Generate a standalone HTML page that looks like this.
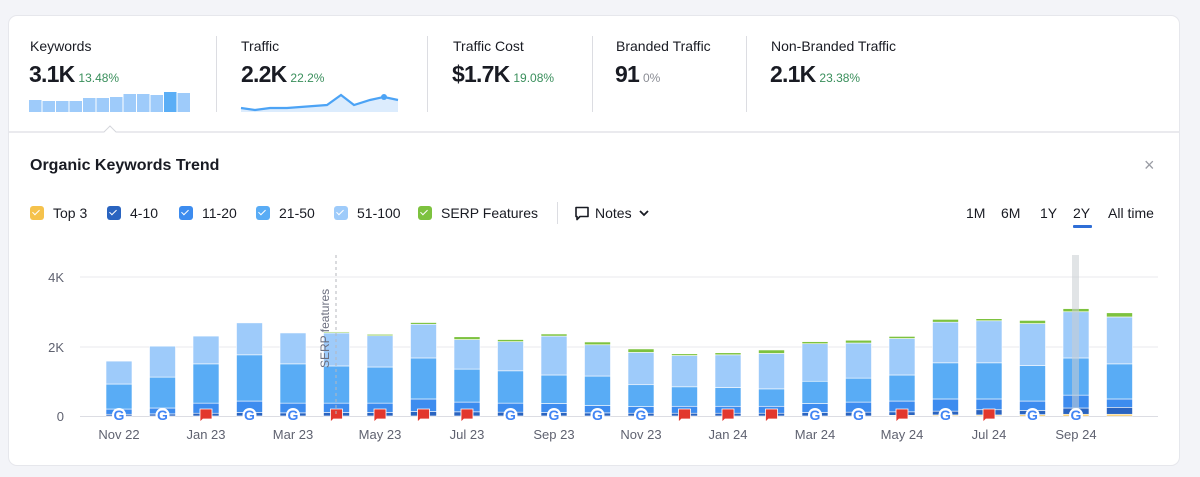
<!DOCTYPE html>
<html><head><meta charset="utf-8"><style>
*{margin:0;padding:0;box-sizing:border-box}
body{width:1200px;height:477px;background:#f3f4f8;font-family:"Liberation Sans",Arial,sans-serif;color:#191b23;position:relative;overflow:hidden}
.card{position:absolute;left:9px;top:16px;width:1170px;height:449px;background:#fff;border-radius:8px;box-shadow:0 0 0 1px #e6e7ec}
.abs{position:absolute;white-space:nowrap}
.lbl{font-size:14px;color:#191b23}
.val{font-size:23px;font-weight:bold;letter-spacing:-0.8px}
.pct{font-size:12px;color:#3a8f5c;font-weight:normal;margin-left:4px;letter-spacing:0}
.div{position:absolute;top:36px;width:1px;height:76px;background:#dcdde2}
.leg{font-size:14px;display:flex;align-items:center}
.cb{width:14px;height:14px;border-radius:3px;margin-right:9px;position:relative}
.cb:after{content:"";position:absolute;left:4px;top:2px;width:3px;height:6px;border:solid #fff;border-width:0 1.6px 1.6px 0;transform:rotate(45deg)}
</style></head><body>
<div class="card"></div>
<div class="abs lbl" style="left:30px;top:38px">Keywords</div>
<div class="abs val" style="left:29px;top:61px">3.1K<span class="pct">13.48%</span></div>
<div class="div" style="left:216px"></div>
<div class="abs lbl" style="left:241px;top:38px">Traffic</div>
<div class="abs val" style="left:241px;top:61px">2.2K<span class="pct">22.2%</span></div>
<div class="div" style="left:427px"></div>
<div class="abs lbl" style="left:453px;top:38px">Traffic Cost</div>
<div class="abs val" style="left:452px;top:61px">$1.7K<span class="pct">19.08%</span></div>
<div class="div" style="left:592px"></div>
<div class="abs lbl" style="left:616px;top:38px">Branded Traffic</div>
<div class="abs val" style="left:615px;top:61px">91<span class="pct" style="color:#8a8c94">0%</span></div>
<div class="div" style="left:746px"></div>
<div class="abs lbl" style="left:771px;top:38px">Non-Branded Traffic</div>
<div class="abs val" style="left:770px;top:61px">2.1K<span class="pct">23.38%</span></div>

<svg class="abs" style="left:0;top:0" width="1200" height="477">
<g id="spark"></g>
<path d="M241 108 L255 110 L270 108 L287 108 L327 105 L341 95 L354 105 L370 100 L384 97 L398 100 L398 112 L241 112Z" fill="#dcecfd"/>
<polyline points="241,108 255,110 270,108 287,108 327,105 341,95 354,105 370,100 384,97 398,100" fill="none" stroke="#4ca3f5" stroke-width="2.2"/>
<circle cx="384" cy="97" r="3" fill="#4ca3f5"/>
<path d="M9 132 H104 L110 126 L116 132 H1179" fill="#fff" stroke="#d5d6dc" stroke-width="1"/>
<g id="chart"></g>
</svg>

<div class="abs" style="left:30px;top:157px;font-size:16px;font-weight:bold">Organic Keywords Trend</div>
<div class="abs" style="left:1144px;top:155px;font-size:18px;color:#9a9ca4">×</div>

<div class="abs leg" style="left:30px;top:205px"><span class="cb" style="background:#f5c24c"></span>Top 3</div>
<div class="abs leg" style="left:107px;top:205px"><span class="cb" style="background:#2a64c0"></span>4-10</div>
<div class="abs leg" style="left:179px;top:205px"><span class="cb" style="background:#3d8cef"></span>11-20</div>
<div class="abs leg" style="left:256px;top:205px"><span class="cb" style="background:#59acf5"></span>21-50</div>
<div class="abs leg" style="left:334px;top:205px"><span class="cb" style="background:#9ecbfa"></span>51-100</div>
<div class="abs leg" style="left:418px;top:205px"><span class="cb" style="background:#7dc23f"></span>SERP Features</div>
<div class="abs" style="left:557px;top:202px;width:1px;height:22px;background:#dcdde2"></div>
<div class="abs leg" style="left:574px;top:205px"><svg width="16" height="16" style="margin-right:5px"><path d="M2 2.5H14V11.5H6L3 14.5V11.5H2Z" fill="none" stroke="#191b23" stroke-width="1.6" stroke-linejoin="round"/></svg>Notes<svg width="12" height="10" style="margin-left:6px"><path d="M2 3L6 7L10 3" fill="none" stroke="#191b23" stroke-width="1.8"/></svg></div>
<div class="abs" style="left:966px;top:205px;font-size:14px">1M</div>
<div class="abs" style="left:1001px;top:205px;font-size:14px">6M</div>
<div class="abs" style="left:1040px;top:205px;font-size:14px">1Y</div>
<div class="abs" style="left:1073px;top:205px;font-size:14px">2Y</div>
<div class="abs" style="left:1073px;top:225px;width:19px;height:3px;background:#2f6ed6;border-radius:1px"></div>
<div class="abs" style="left:1108px;top:205px;font-size:14px">All time</div>

<script>
var s='';
var tops=[100,101,101,101,98,98,97,94,94,95,92,93];
for(var i=0;i<12;i++){s+='<rect x="'+(29+i*13.5)+'" y="'+tops[i]+'" width="12.5" height="'+(112-tops[i])+'" fill="'+(i==10?'#5aaef6':'#9ecbfa')+'"/>';}
document.getElementById('spark').innerHTML=s;
var d=[[1.58,0.92,0.2,0.05,0,0],[2.01,1.12,0.23,0.06,0,0],[2.3,1.5,0.37,0.08,0,0],[2.68,1.76,0.43,0.1,0,0],[2.39,1.5,0.37,0.09,0,0],
[2.39,1.44,0.37,0.1,0,0.03],[2.31,1.41,0.37,0.1,0,0.04],[2.64,1.67,0.49,0.13,0,0.05],[2.2,1.35,0.4,0.12,0,0.08],[2.14,1.3,0.37,0.11,0,0.06],
[2.3,1.18,0.36,0.1,0,0.06],[2.05,1.15,0.3,0.09,0,0.08],[1.83,0.9,0.27,0.08,0,0.1],[1.74,0.84,0.28,0.08,0,0.05],[1.76,0.82,0.28,0.08,0,0.06],
[1.8,0.78,0.28,0.08,0,0.1],[2.08,1.0,0.36,0.1,0,0.06],[2.1,1.09,0.4,0.11,0,0.08],[2.23,1.18,0.43,0.12,0.02,0.06],[2.7,1.53,0.49,0.14,0.03,0.08],
[2.74,1.53,0.49,0.18,0.03,0.06],[2.66,1.45,0.43,0.16,0.04,0.09],[3.0,1.67,0.6,0.23,0.05,0.09],[2.85,1.5,0.49,0.25,0.05,0.12]];
var icons='GGFGGFFFFGGGGFFFGGFGFGG ';
var K=34.75,Y0=416,c='';
c+='<line x1="80" y1="277" x2="1158" y2="277" stroke="#e8e9ee"/><line x1="80" y1="347" x2="1158" y2="347" stroke="#e8e9ee"/><line x1="80" y1="416.5" x2="1158" y2="416.5" stroke="#dcdde3"/>';
c+='<text x="64" y="282" text-anchor="end" font-size="13" fill="#5f6270">4K</text><text x="64" y="352" text-anchor="end" font-size="13" fill="#5f6270">2K</text><text x="64" y="421" text-anchor="end" font-size="13" fill="#5f6270">0</text>';
var cols=['#f5c24c','#2a64c0','#3d8cef','#59acf5','#9ecbfa','#7dc23f'];
var ic='';
for(var i=0;i<24;i++){
 var x=106+i*43.5,r=d[i];
 var tot=r[0]+r[5];
 var segs=[[0,r[4]],[r[4],r[3]],[r[3],r[2]],[r[2],r[1]],[r[1],r[0]],[r[0],tot]];
 for(var j=0;j<6;j++){var a=segs[j][0],b=segs[j][1];if(b<=a)continue;
  c+='<rect x="'+x+'" y="'+(Y0-b*K)+'" width="26" height="'+((b-a)*K)+'" fill="'+cols[j]+'" stroke="#fff" stroke-width="0.6"/>';}
 var cx=x+13;
 if(icons[i]=='G'){ic+='<circle cx="'+cx+'" cy="415" r="7" fill="#fff"/><text x="'+cx+'" y="420" text-anchor="middle" font-size="14" font-weight="bold" fill="#4285f4">G</text>';}
 else if(icons[i]=='F'){ic+='<path d="M'+(cx-6)+' 409 H'+(cx+6)+' V419 H'+(cx-3)+' L'+(cx-6)+' 422Z" fill="#e2372d" stroke="#fff" stroke-width="0.8"/>';}
}
c+='<rect x="1072" y="255" width="7" height="161" fill="#c9cdd1" opacity="0.55"/>';
c+=ic;
c+='<line x1="336" y1="255" x2="336" y2="416" stroke="#b5b7bd" stroke-dasharray="3 3"/>';
c+='<text transform="translate(329,368) rotate(-90)" font-size="12" fill="#6d7080">SERP features</text>';
var labs=['Nov 22','Jan 23','Mar 23','May 23','Jul 23','Sep 23','Nov 23','Jan 24','Mar 24','May 24','Jul 24','Sep 24'];
for(var k=0;k<12;k++){c+='<text x="'+(119+k*87)+'" y="439" text-anchor="middle" font-size="13" fill="#5f6270">'+labs[k]+'</text>';}
document.getElementById('chart').innerHTML=c;
</script>
</body></html>
